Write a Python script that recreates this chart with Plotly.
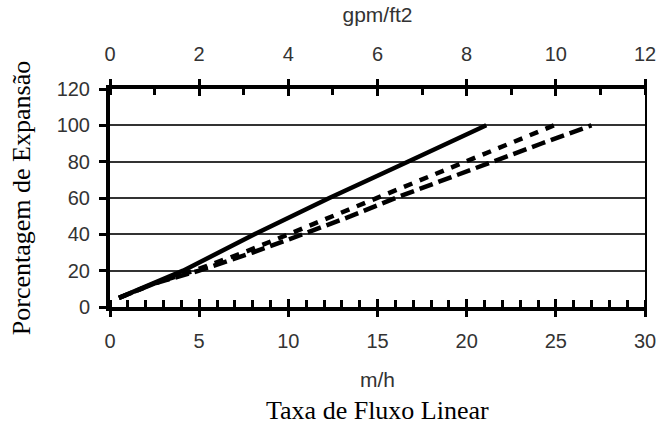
import plotly.graph_objects as go

# Flow rate (m/h) and bed expansion (%) for three curves
solid_x = [0.5, 4.1, 8.1, 12.3, 16.7, 21.1]
solid_y = [5, 20, 40, 60, 80, 100]

short_x = [0.5, 2.5, 4.7, 7.5, 10, 12.5, 15, 17.5, 20, 22.5, 24.9]
short_y = [5, 13, 20, 30, 40, 50, 60, 70, 80, 90, 100]

long_x = [0.5, 2.5, 5, 8, 10.8, 13.5, 16, 18.7, 21.4, 24.2, 27]
long_y = [5, 13, 20, 30, 40, 50, 60, 70, 80, 90, 100]

x_range = [0, 30]
top_range = [0, 12]
y_range = [0, 120]

sans = "Liberation Sans, Arial, sans-serif"
serif = "Liberation Serif, Times New Roman, serif"
label_col = "#333"

fig = go.Figure()
fig.add_trace(go.Scatter(x=solid_x, y=solid_y, mode="lines",
                         line=dict(color="black", width=4.5), showlegend=False))
fig.add_trace(go.Scatter(x=short_x, y=short_y, mode="lines",
                         line=dict(color="black", width=4.5, dash="9px,8px"), showlegend=False))
fig.add_trace(go.Scatter(x=long_x, y=long_y, mode="lines",
                         line=dict(color="black", width=4.5, dash="14px,6px"), showlegend=False))
# invisible traces to bind helper axes
fig.add_trace(go.Scatter(x=top_range, y=y_range, xaxis="x2", yaxis="y", mode="markers",
                         marker=dict(opacity=0), hoverinfo="skip", showlegend=False))
fig.add_trace(go.Scatter(x=x_range, y=y_range, xaxis="x3", yaxis="y2", mode="markers",
                         marker=dict(opacity=0), hoverinfo="skip", showlegend=False))
fig.add_trace(go.Scatter(x=top_range, y=y_range, xaxis="x4", yaxis="y", mode="markers",
                         marker=dict(opacity=0), hoverinfo="skip", showlegend=False))

tick = dict(tickwidth=3, tickcolor="black")

fig.update_layout(
    width=668, height=431,
    margin=dict(l=110, r=13, t=86, b=124),
    paper_bgcolor="white", plot_bgcolor="white",
    font=dict(family=sans, size=20, color=label_col),
    xaxis=dict(range=x_range, dtick=5, tick0=0, showgrid=False, zeroline=False,
               showline=True, linecolor="black", linewidth=4,
               ticks="outside", ticklen=6, **tick, ticklabelstandoff=7,
               minor=dict(dtick=1, ticks="inside", ticklen=7, tickwidth=3, tickcolor="black"),
               tickfont=dict(family=sans, size=20, color=label_col),
               title=dict(text="m/h", font=dict(family=sans, size=21, color=label_col), standoff=22)),
    xaxis2=dict(range=top_range, overlaying="x", side="top", dtick=2, tick0=0,
                showgrid=False, zeroline=False, showline=True, linecolor="black", linewidth=4,
                ticks="outside", ticklen=6, **tick, ticklabelstandoff=10,
                minor=dict(dtick=1, ticks="inside", ticklen=6, tickwidth=3, tickcolor="black"),
                tickfont=dict(family=sans, size=20, color=label_col),
                title=dict(text="gpm/ft2", font=dict(family=sans, size=21, color=label_col), standoff=16)),
    xaxis3=dict(range=x_range, overlaying="x", side="bottom", dtick=5, tick0=0,
                showgrid=False, zeroline=False, showline=False, showticklabels=False,
                ticks="inside", ticklen=8, **tick),
    xaxis4=dict(range=top_range, overlaying="x", side="top", dtick=2, tick0=0,
                showgrid=False, zeroline=False, showline=False, showticklabels=False,
                ticks="inside", ticklen=7, **tick),
    yaxis=dict(range=y_range, dtick=20, tick0=0, showgrid=True, gridcolor="#333", gridwidth=1.5,
               zeroline=False, showline=True, linecolor="black", linewidth=4,
               ticks="outside", ticklen=7, **tick, ticklabelstandoff=5,
               tickfont=dict(family=sans, size=20, color=label_col),
               title=dict(text="Porcentagem de Expansão", font=dict(family=serif, size=26, color="black"),
                          standoff=20)),
    yaxis2=dict(range=y_range, overlaying="y", side="right", showgrid=False, zeroline=False,
                showline=True, linecolor="black", linewidth=2, ticks="", showticklabels=False),
    annotations=[dict(text="Taxa de Fluxo Linear", xref="paper", yref="paper", x=0.5, y=-0.476,
                      xanchor="center", yanchor="middle", showarrow=False,
                      font=dict(family=serif, size=26, color="black"))],
)

fig.write_html("out.html")
